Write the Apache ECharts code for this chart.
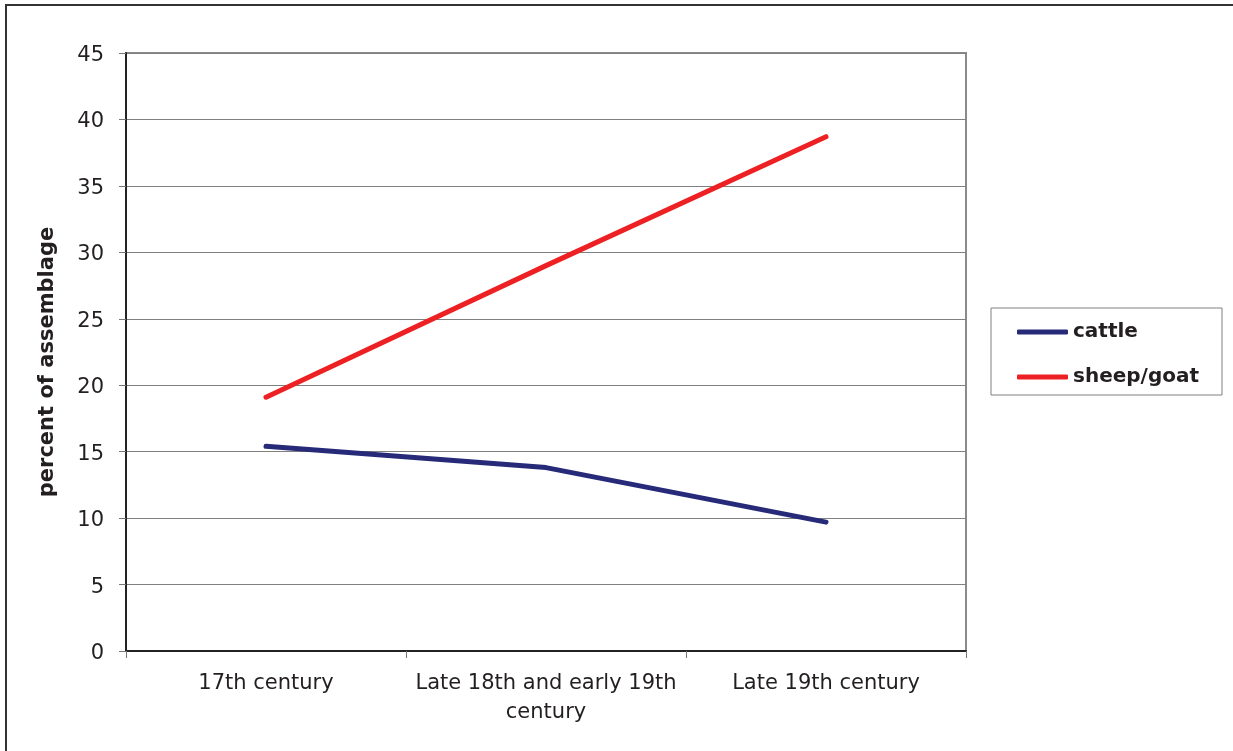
<!DOCTYPE html>
<html>
<head>
<meta charset="utf-8">
<style>
  html, body { margin: 0; padding: 0; background: #fff; }
  #chart { width: 1233px; height: 751px; }
</style>
<script src="https://cdn.jsdelivr.net/npm/echarts@6/dist/echarts.min.js"></script>
</head>
<body>
<div id="chart"></div>
<script>
// Share of the faunal assemblage by period
const periods = ['17th century', 'Late 18th and early 19th\ncentury', 'Late 19th century'];
const cattle = [15.4, 13.8, 9.7];
const sheepGoat = [19.1, 29.0, 38.7];
const yTicks = { min: 0, max: 45, interval: 5 };

const textColor = '#231f20';
const font = '"DejaVu Sans", Arial, sans-serif';

const chart = echarts.init(document.getElementById('chart'), null, { renderer: 'canvas' });

chart.setOption({
  backgroundColor: '#fff',
  animation: false,
  graphic: [
    {
      type: 'rect',
      shape: { x: 6, y: 5, width: 1240, height: 760 },
      style: { fill: 'none', stroke: '#333', lineWidth: 2 },
      silent: true
    },
    {
      type: 'rect',
      shape: { x: 991, y: 308, width: 231, height: 87 },
      style: { fill: '#fff', stroke: '#808080', lineWidth: 1 },
      silent: true,
      z: 0
    }
  ],
  grid: {
    left: 126, top: 53, right: 267, bottom: 100,
    show: true,
    borderColor: '#8a8a8a',
    borderWidth: 2,
    backgroundColor: 'transparent'
  },
  legend: {
    orient: 'vertical',
    left: 1017,
    top: 322,
    padding: 0,
    itemGap: 25,
    itemWidth: 51,
    itemHeight: 5,
    icon: 'roundRect',
    textStyle: { fontFamily: font, fontSize: 20, fontWeight: 'bold', color: textColor, lineHeight: 20, padding: [0, 0, 0, 0] },
    z: 5,
    data: ['cattle', 'sheep/goat']
  },
  xAxis: {
    type: 'category',
    data: periods,
    boundaryGap: true,
    axisLine: { lineStyle: { color: '#222', width: 2 } },
    axisTick: { show: true, interval: 0, length: 7, lineStyle: { color: '#777', width: 1 } },
    axisLabel: {
      interval: 0,
      margin: 18,
      fontFamily: font,
      fontSize: 21,
      color: textColor,
      lineHeight: 29
    },
    splitLine: { show: false }
  },
  yAxis: {
    type: 'value',
    min: yTicks.min,
    max: yTicks.max,
    interval: yTicks.interval,
    name: 'percent of assemblage',
    nameLocation: 'middle',
    nameGap: 68,
    nameTextStyle: { fontFamily: font, fontSize: 21, fontWeight: 'bold', color: textColor, padding: [0, 20, 0, 0] },
    axisLine: { show: true, lineStyle: { color: '#222', width: 2 } },
    axisTick: { show: true, length: 7, lineStyle: { color: '#777', width: 1 } },
    axisLabel: {
      margin: 22,
      formatter: '{v|{value}}',
      rich: { v: { fontFamily: font, fontSize: 21, color: textColor, padding: [5, 0, 0, 0] } }
    },
    splitLine: { show: true, lineStyle: { color: '#808080', width: 1 } }
  },
  series: [
    {
      name: 'cattle',
      type: 'line',
      data: cattle,
      symbol: 'none',
      color: '#262a78',
      lineStyle: { width: 5, color: '#262a78', cap: 'round', join: 'round' },
      z: 3
    },
    {
      name: 'sheep/goat',
      type: 'line',
      data: sheepGoat,
      symbol: 'none',
      color: '#ed2124',
      lineStyle: { width: 5, color: '#ed2124', cap: 'round', join: 'round' },
      z: 3
    }
  ]
});
</script>
</body>
</html>
